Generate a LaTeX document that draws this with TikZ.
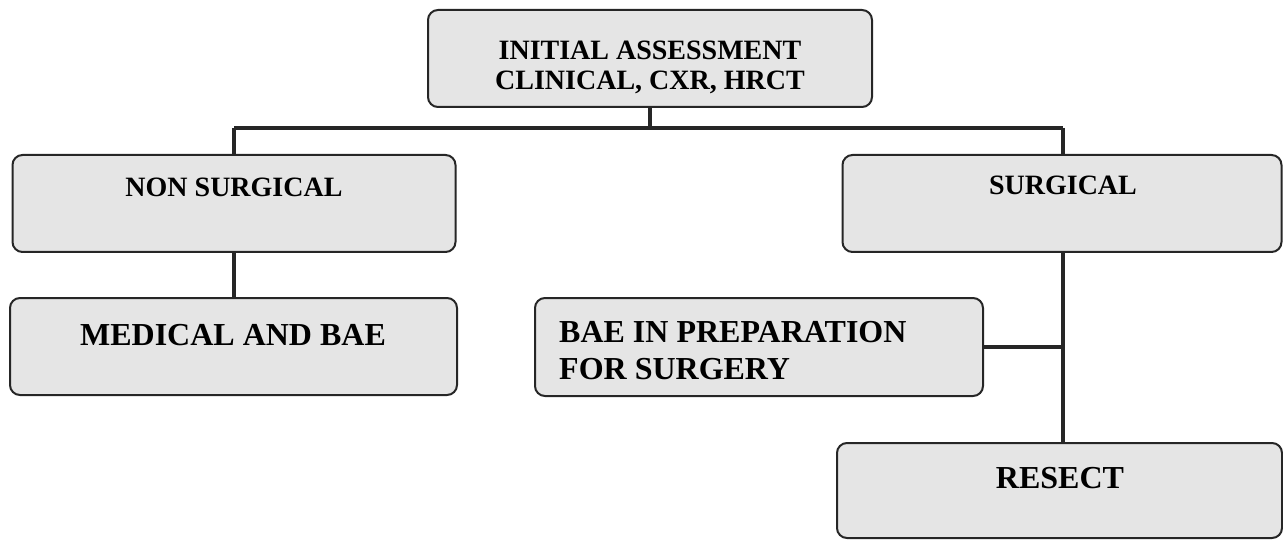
\documentclass[tikz,border=0pt]{standalone}
\usepackage{fontspec}
\setmainfont{Liberation Serif}
\begin{document}
\begin{tikzpicture}[x=1pt,y=-1pt,
  box/.style={draw=black!85, line width=2pt, fill=black!10, rounded corners=10pt, inner sep=0pt},
  small/.style={font=\fontsize{28}{30}\selectfont\bfseries, inner sep=0pt, align=center},
  big/.style={font=\fontsize{32}{37}\selectfont\bfseries, inner sep=0pt},
  conn/.style={draw=black!85, line width=4pt}]
\useasboundingbox (0,0) rectangle (1283,540);
\node[box, minimum width=444pt, minimum height=97pt] (top) at (650,58.5) {};
\node[box, minimum width=443pt, minimum height=97pt] (nons) at (234,203.5) {};
\node[box, minimum width=439pt, minimum height=97pt] (surg) at (1062,203.5) {};
\node[box, minimum width=447pt, minimum height=97pt] (med) at (233.5,346.5) {};
\node[box, minimum width=448pt, minimum height=98pt] (bae) at (759,347) {};
\node[box, minimum width=445pt, minimum height=95pt] (res) at (1059.5,490.5) {};
\node[small] (toptext) at (650,67) {INITIAL ASSESSMENT\\CLINICAL, CXR, HRCT};
\node[small] (nonstext) at (234,187) {NON SURGICAL};
\node[small] (surgtext) at (1063,185) {SURGICAL};
\node[big] (medtext) at (233,335) {MEDICAL AND BAE};
\node[big, align=left, anchor=west] (baetext) at (559,351) {BAE IN PREPARATION\\FOR SURGERY};
\node[big] (restext) at (1060,478) {RESECT};
\coordinate (hub) at (650,128);
\coordinate (hl) at (234,128);
\coordinate (hr) at (1063,128);
\coordinate (mid) at (1063,347);
\draw[conn] (top.south) -- (hub);
\draw[conn] (hl) -- (hr);
\draw[conn] (hl) -- (nons.north);
\draw[conn] (hr) -- (surg.north -| hr);
\draw[conn] (nons.south) -- (med.north -| nons.south);
\draw[conn] (surg.south -| hr) -- (res.north -| hr);
\draw[conn] (bae.east) -- (mid);
\end{tikzpicture}
\end{document}
